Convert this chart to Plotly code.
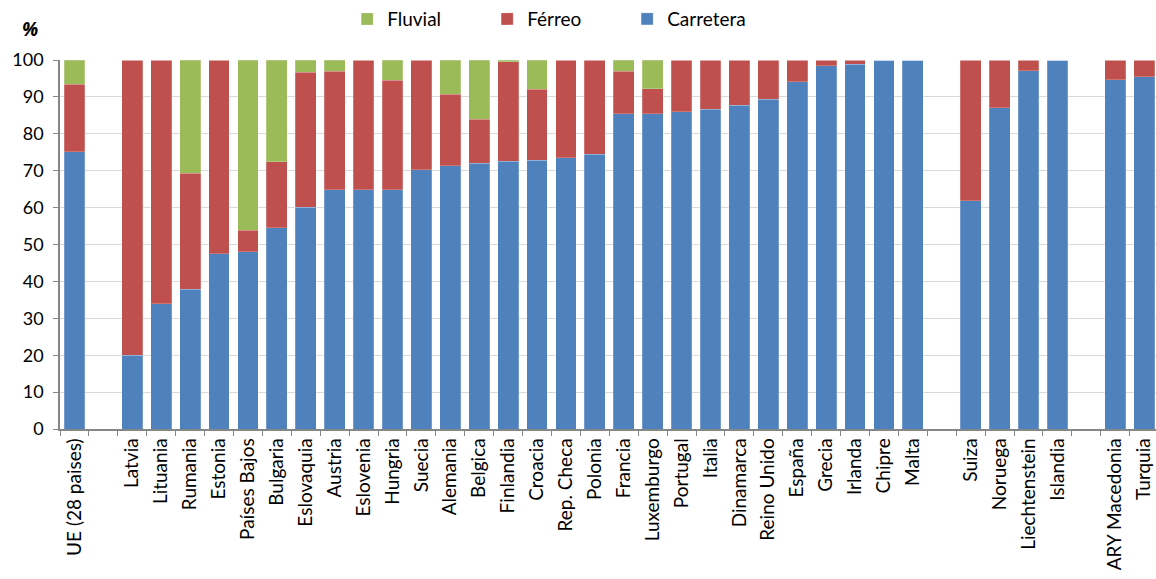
import plotly.graph_objects as go

# Categories (blank-space entries act as spacer slots between groups)
categories = [
    "UE (28 paises)", " ",
    "Latvia", "Lituania", "Rumania", "Estonia", "Países Bajos", "Bulgaria",
    "Eslovaquia", "Austria", "Eslovenia", "Hungria", "Suecia", "Alemania",
    "Belgica", "Finlandia", "Croacia", "Rep. Checa", "Polonia", "Francia",
    "Luxemburgo", "Portugal", "Italia", "Dinamarca", "Reino Unido", "España",
    "Grecia", "Irlanda", "Chipre", "Malta", "  ",
    "Suiza", "Noruega", "Liechtenstein", "Islandia", "   ",
    "ARY Macedonia", "Turquia",
]

# Modal share (%) by road
carretera = [
    75.1, None,
    20.0, 34.0, 37.9, 47.5, 48.0, 54.6,
    60.1, 64.8, 64.8, 64.9, 70.3, 71.3,
    72.0, 72.5, 72.8, 73.5, 74.4, 85.4,
    85.4, 86.0, 86.6, 87.8, 89.4, 94.1,
    98.4, 98.9, 100.0, 100.0, None,
    61.9, 87.1, 97.1, 100.0, None,
    94.7, 95.4,
]

# Modal share (%) by rail
ferreo = [
    18.3, None,
    80.0, 66.0, 31.4, 52.5, 5.9, 17.8,
    36.6, 32.2, 35.2, 29.6, 29.7, 19.4,
    11.9, 27.0, 19.3, 26.5, 25.6, 11.6,
    6.8, 14.0, 13.4, 12.2, 10.6, 5.9,
    1.6, 1.1, 0.0, 0.0, None,
    38.1, 12.9, 2.9, 0.0, None,
    5.3, 4.6,
]

# Modal share (%) by inland waterways
fluvial = [
    6.6, None,
    0.0, 0.0, 30.7, 0.0, 46.1, 27.6,
    3.3, 3.0, 0.0, 5.5, 0.0, 9.3,
    16.1, 0.5, 7.9, 0.0, 0.0, 3.0,
    7.8, 0.0, 0.0, 0.0, 0.0, 0.0,
    0.0, 0.0, 0.0, 0.0, None,
    0.0, 0.0, 0.0, 0.0, None,
    0.0, 0.0,
]

BLUE = "#4F81BD"
RED = "#C0504D"
GREEN = "#9BBB59"
FONT = "Lato"

fig = go.Figure()
for name, vals, col in [
    ("Carretera", carretera, BLUE),
    ("Férreo", ferreo, RED),
    ("Fluvial", fluvial, GREEN),
]:
    fig.add_trace(go.Bar(
        x=categories, y=vals, name=name,
        marker=dict(color=col, line=dict(color="rgba(255,255,255,0.35)", width=0.6)),
        hoverinfo="x+y+name",
    ))

fig.update_layout(
    barmode="stack",
    bargap=0.28,
    width=1156, height=579,
    margin=dict(l=60, r=0, t=60, b=150, autoexpand=False),
    paper_bgcolor="white", plot_bgcolor="white",
    font=dict(family=FONT, size=18, color="#000000"),
    legend=dict(
        orientation="h", traceorder="reversed",
        x=0.262, y=1.111, xanchor="left", yanchor="middle",
        entrywidth=95, entrywidthmode="pixels",
        font=dict(family=FONT, size=19), itemwidth=30,
        bgcolor="rgba(0,0,0,0)",
    ),
    showlegend=True,
)

fig.update_xaxes(
    type="category",
    categoryorder="array", categoryarray=categories,
    range=[-0.5, 37.41],
    tickson="boundaries", ticks="outside", ticklen=5, tickcolor="#868686",
    tickangle=-90, tickfont=dict(family=FONT, size=19),
    showline=True, linecolor="#868686", linewidth=1.5,
    showgrid=False, zeroline=False,
)

fig.update_yaxes(
    range=[0, 100], dtick=10,
    ticks="outside", ticklen=5, tickcolor="#868686",
    tickfont=dict(family=FONT, size=18),
    ticklabelstandoff=6,
    showline=True, linecolor="#868686", linewidth=1.5,
    showgrid=True, gridcolor="#D9D9D9", gridwidth=1,
    zeroline=False,
)

fig.add_annotation(
    text="<b><i>%</i></b>", xref="paper", yref="paper",
    x=-0.027, y=1.084, xanchor="center", yanchor="middle",
    showarrow=False,
    font=dict(family="Open Sans", size=19),
)

fig.write_html("out.html")
